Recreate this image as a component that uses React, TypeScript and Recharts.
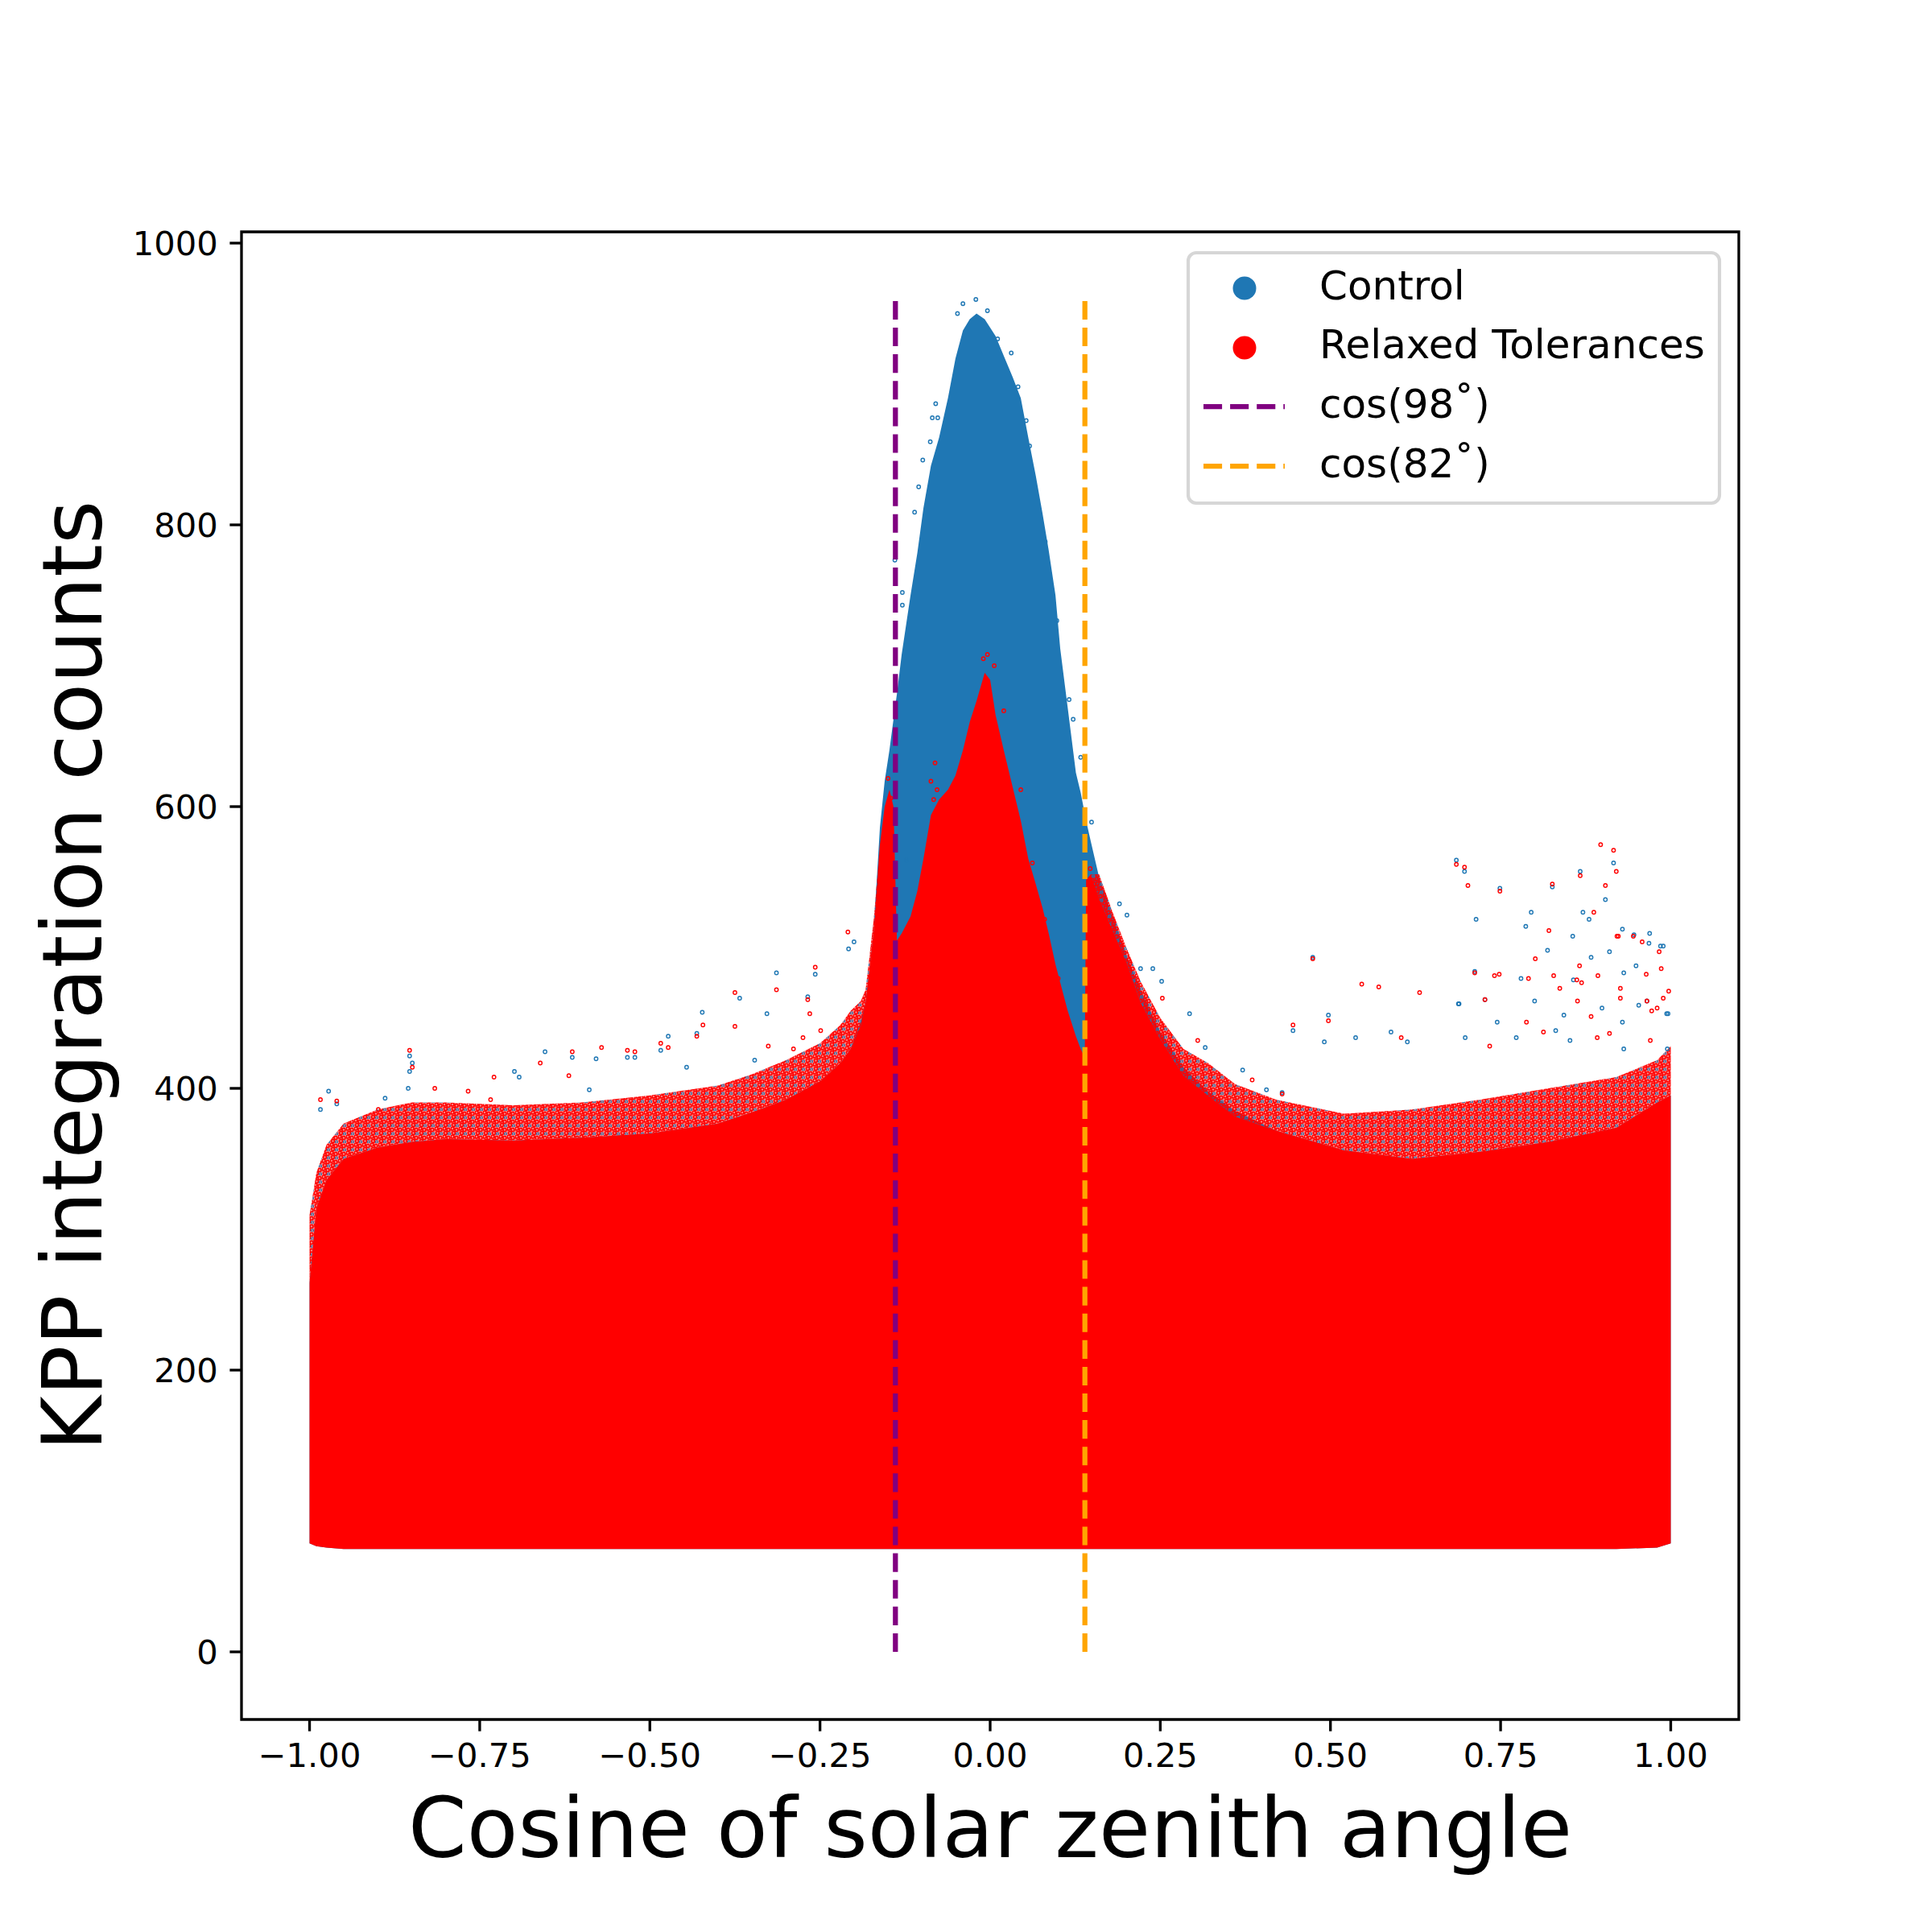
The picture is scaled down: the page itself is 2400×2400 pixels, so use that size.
import React from 'react'
import { ComposedChart, Area, Scatter, XAxis, YAxis, ReferenceLine, ReferenceArea } from 'recharts'

// envelope of the dense point clouds
const xs = [
  -1.0, -0.99, -0.975, -0.95, -0.9, -0.85, -0.8, -0.7, -0.6, -0.5, -0.4, -0.35, -0.3, -0.25, -0.22, -0.205,
  -0.19, -0.183, -0.171, -0.162, -0.155, -0.148, -0.142, -0.137, -0.13, -0.117, -0.107, -0.098, -0.087, -0.075,
  -0.062, -0.051, -0.04, -0.03, -0.02, -0.008, 0.0, 0.008, 0.02, 0.033, 0.045, 0.056, 0.067, 0.077, 0.086, 0.096,
  0.103, 0.114, 0.126, 0.133, 0.139, 0.141, 0.148, 0.16, 0.18, 0.2, 0.221, 0.25, 0.284, 0.32, 0.36, 0.42, 0.52,
  0.62, 0.72, 0.82, 0.92, 0.98, 1.0,
]
const lowerEdge = [
  77, 75, 74, 73, 73, 73, 73, 73, 73, 73, 73, 73, 73, 73, 73, 73,
  73, 73, 73, 73, 73, 73, 73, 73, 73, 73, 73, 73, 73, 73,
  73, 73, 73, 73, 73, 73, 73, 73, 73, 73, 73, 73, 73, 73, 73, 73,
  73, 73, 73, 73, 73, 73, 73, 73, 73, 73, 73, 73, 73, 73, 73, 73, 73,
  73, 73, 73, 73, 74, 77,
]
const controlTop = [
  262, 315, 335, 350, 358, 362, 364, 363, 365, 368, 375, 383, 392, 405, 418, 428,
  448, 461, 512, 585, 618, 640, 662, 680, 708, 750, 780, 812, 842, 862,
  890, 918, 938, 946, 950, 946, 940, 934, 920, 905, 890, 862, 835, 808, 782, 750,
  712, 670, 624, 610, 595, 590, 575, 550, 522, 495, 470, 440, 415, 398, 384, 370, 356,
  350, 355, 362, 372, 390, 395,
]
const relaxedTop = [
  262, 315, 335, 350, 358, 362, 364, 363, 365, 368, 375, 383, 392, 405, 418, 428,
  445, 461, 512, 573, 600, 612, 600, 505, 510, 522, 540, 563, 594, 605,
  612, 622, 640, 660, 675, 695, 690, 665, 640, 614, 590, 563, 545, 528, 510, 488,
  475, 455, 437, 428, 422, 548, 552, 535, 512, 490, 461, 435, 409, 395, 380, 370, 356,
  350, 355, 362, 372, 390, 395,
]
const fringeTop = [
  310, 340, 360, 375, 385, 390, 390, 388, 390, 395, 402, 410, 420, 432, 445, 455,
  462, 470, 520, 573, 600, 612, 600, 505, 510, 522, 540, 563, 594, 605,
  612, 622, 640, 660, 675, 695, 690, 665, 640, 614, 590, 563, 545, 528, 510, 488,
  475, 455, 437, 428, 422, 548, 552, 552, 525, 500, 476, 450, 428, 418, 403, 392, 382,
  385, 392, 400, 408, 420, 430,
]

// sparse points above the clouds
const controlOutliers = [
  [-0.984, 385], [-0.972, 398], [-0.96, 389], [-0.855, 400], [-0.853, 423], [-0.849, 418], [-0.853, 412],
  [-0.889, 393], [-0.699, 412], [-0.692, 408], [-0.654, 426], [-0.614, 422], [-0.579, 421], [-0.589, 399],
  [-0.533, 422], [-0.522, 422], [-0.484, 427], [-0.473, 437], [-0.446, 415], [-0.431, 439], [-0.423, 454],
  [-0.368, 464], [-0.346, 420], [-0.328, 453], [-0.314, 482], [-0.268, 465], [-0.257, 481], [-0.208, 499],
  [-0.2, 504], [-0.14, 775], [-0.129, 752], [-0.129, 743], [-0.123, 562], [-0.111, 809], [-0.105, 827],
  [-0.099, 846], [-0.088, 859], [-0.085, 876], [-0.08, 886], [-0.077, 876], [-0.048, 950], [-0.04, 957],
  [-0.021, 960], [-0.004, 952], [0.011, 932], [0.031, 922], [0.041, 898], [0.053, 874], [0.058, 856],
  [0.081, 788], [0.098, 732], [0.116, 676], [0.122, 662], [0.133, 635], [0.149, 589], [0.19, 531],
  [0.201, 523], [0.221, 485], [0.239, 485], [0.252, 476], [0.293, 453], [0.316, 429], [0.371, 413],
  [0.406, 399], [0.429, 397], [0.445, 441], [0.474, 493], [0.497, 452], [0.491, 433], [0.537, 436],
  [0.589, 440], [0.613, 433], [0.685, 562], [0.697, 554], [0.714, 520], [0.688, 460], [0.727, 463],
  [0.749, 542], [0.787, 515], [0.795, 525], [0.826, 543], [0.856, 508], [0.867, 554], [0.871, 525],
  [0.88, 520], [0.904, 534], [0.916, 560], [0.929, 513], [0.946, 509], [0.969, 510], [0.989, 501],
  [0.965, 462], [0.996, 453], [0.712, 483], [0.78, 478], [0.819, 498], [0.857, 477], [0.883, 493],
  [0.91, 497], [0.931, 482], [0.949, 487], [0.968, 503], [0.985, 501], [0.689, 460], [0.8, 462],
  [0.843, 452], [0.899, 457], [0.953, 459], [0.745, 447], [0.831, 441], [0.929, 447], [0.994, 453],
  [0.698, 436], [0.773, 436], [0.852, 434], [0.931, 428], [0.995, 428],
]
const relaxedOutliers = [
  [-0.984, 392], [-0.96, 391], [-0.899, 385], [-0.853, 427], [-0.849, 415], [-0.816, 400], [-0.767, 398],
  [-0.734, 392], [-0.729, 408], [-0.661, 418], [-0.619, 409], [-0.614, 426], [-0.571, 429], [-0.533, 427],
  [-0.522, 426], [-0.484, 432], [-0.473, 429], [-0.431, 437], [-0.422, 445], [-0.375, 468], [-0.375, 444],
  [-0.326, 430], [-0.314, 470], [-0.289, 428], [-0.275, 436], [-0.268, 463], [-0.265, 453], [-0.257, 486],
  [-0.249, 441], [-0.209, 511], [-0.15, 620], [-0.146, 606], [-0.087, 618], [-0.081, 631], [-0.078, 612],
  [-0.083, 605], [-0.01, 705], [-0.004, 708], [0.006, 700], [0.02, 668], [0.045, 612], [0.062, 560],
  [0.08, 520], [0.1, 478], [0.147, 556], [0.152, 545], [0.253, 464], [0.305, 434], [0.385, 406],
  [0.429, 396], [0.445, 445], [0.474, 492], [0.497, 448], [0.546, 474], [0.571, 472], [0.604, 436],
  [0.631, 468], [0.685, 559], [0.697, 557], [0.702, 544], [0.712, 482], [0.741, 480], [0.749, 540],
  [0.791, 478], [0.801, 492], [0.821, 512], [0.826, 545], [0.837, 471], [0.862, 477], [0.867, 551],
  [0.869, 475], [0.887, 525], [0.897, 573], [0.904, 544], [0.916, 569], [0.92, 554], [0.923, 508],
  [0.926, 471], [0.958, 504], [0.965, 462], [0.986, 485], [0.997, 469], [0.748, 481], [0.828, 480],
  [0.866, 487], [0.893, 480], [0.921, 508], [0.945, 508], [0.964, 481], [0.983, 497], [0.989, 464],
  [0.727, 463], [0.863, 462], [0.926, 464], [0.972, 455], [0.788, 447], [0.883, 451], [0.91, 439],
  [0.98, 457], [0.734, 430], [0.813, 440], [0.892, 436], [0.97, 434],
]

const xTicks = [-1, -0.75, -0.5, -0.25, 0, 0.25, 0.5, 0.75, 1]
const yTicks = [0, 200, 400, 600, 800, 1000]
const cos98 = -0.1392
const cos82 = 0.1392
const vlineTop = 960

const BLUE = '#1f77b4'
const RED = '#ff0000'
const FONT = 'DejaVu Sans, sans-serif'

const rows = xs.map((x, i) => ({
  x,
  control: [lowerEdge[i], controlTop[i]],
  relaxed: [lowerEdge[i], relaxedTop[i]],
  fringe: [relaxedTop[i], fringeTop[i]],
}))
const ctrlPts = controlOutliers.map(([x, y]) => ({ x, y }))
const relPts = relaxedOutliers.map(([x, y]) => ({ x, y }))

const dot = (color: string) => (props: any) => (
  <circle cx={props.cx} cy={props.cy} r={2.2} fill="none" stroke={color} strokeWidth={1.4} />
)

const fmtX = (v: number) => (v < 0 ? '\u2212' + Math.abs(v).toFixed(2) : v.toFixed(2))

export default function App() {
  const tickStyle = { fontSize: 41.7, fill: '#000', fontFamily: FONT }
  return (
    <div style={{ position: 'absolute', left: 0, top: 0, width: 2400, height: 2400, background: '#fff' }}>
      <ComposedChart
        width={2400}
        height={2400}
        data={rows}
        margin={{ top: 288, right: 240, bottom: 0, left: 0 }}
      >
        <defs>
          <pattern id="fringe" patternUnits="userSpaceOnUse" width="10" height="10">
            <rect x="0" y="0" width="10" height="10" fill={RED} fillOpacity="0.5" />
            <circle cx="2" cy="2" r="2" fill="none" stroke={RED} strokeWidth="1.6" />
            <circle cx="7" cy="3.5" r="2" fill="none" stroke={RED} strokeWidth="1.6" />
            <circle cx="3.5" cy="7.5" r="2" fill="none" stroke={RED} strokeWidth="1.6" />
            <circle cx="8" cy="8.5" r="1.5" fill="none" stroke={BLUE} strokeWidth="1.1" />
          </pattern>
        </defs>
        <XAxis
          type="number"
          dataKey="x"
          domain={[-1.1, 1.1]}
          allowDataOverflow
          ticks={xTicks}
          interval={0}
          tickFormatter={fmtX}
          height={264}
          tickSize={14.6}
          tickMargin={14.6}
          tick={tickStyle}
          tickLine={{ stroke: '#000', strokeWidth: 3.33 }}
          axisLine={false}
        />
        <YAxis
          type="number"
          domain={[-48, 1008]}
          allowDataOverflow
          ticks={yTicks}
          interval={0}
          width={300}
          tickSize={14.6}
          tickMargin={14.6}
          tick={tickStyle}
          tickLine={{ stroke: '#000', strokeWidth: 3.33 }}
          axisLine={false}
        />
        <Area
          type="linear"
          dataKey="control"
          stroke="none"
          fill={BLUE}
          fillOpacity={1}
          dot={false}
          activeDot={false}
          isAnimationActive={false}
        />
        <Scatter data={ctrlPts} dataKey="y" shape={dot(BLUE)} isAnimationActive={false} />
        <Area
          type="linear"
          dataKey="relaxed"
          stroke="none"
          fill={RED}
          fillOpacity={1}
          dot={false}
          activeDot={false}
          isAnimationActive={false}
        />
        <Area
          type="linear"
          dataKey="fringe"
          stroke="none"
          fill="url(#fringe)"
          fillOpacity={1}
          dot={false}
          activeDot={false}
          isAnimationActive={false}
        />
        <Scatter data={relPts} dataKey="y" shape={dot(RED)} isAnimationActive={false} />
        <ReferenceLine
          segment={[{ x: cos98, y: 0 }, { x: cos98, y: vlineTop }]}
          stroke="#800080"
          strokeWidth={6.25}
          strokeDasharray="23.1 10"
          ifOverflow="visible"
          zIndex={1000}
        />
        <ReferenceLine
          segment={[{ x: cos82, y: 0 }, { x: cos82, y: vlineTop }]}
          stroke="#ffa500"
          strokeWidth={6.25}
          strokeDasharray="23.1 10"
          ifOverflow="visible"
          zIndex={1000}
        />
        <ReferenceArea
          x1={-1.1}
          x2={1.1}
          y1={-48}
          y2={1008}
          fill="none"
          fillOpacity={0}
          stroke="#000"
          strokeWidth={3.33}
          ifOverflow="visible"
          zIndex={1100}
        />
      </ComposedChart>

      {/* axis titles and legend */}
      <svg
        width={2400}
        height={2400}
        style={{ position: 'absolute', left: 0, top: 0, pointerEvents: 'none' }}
        fontFamily={FONT}
      >
        <text x={1230} y={2307} fontSize={104.2} textAnchor="middle" fill="#000">
          Cosine of solar zenith angle
        </text>
        <text
          x={126}
          y={1212}
          fontSize={104.2}
          textAnchor="middle"
          fill="#000"
          transform="rotate(-90 126 1212)"
        >
          KPP integration counts
        </text>

        <rect x={1476} y={314} width={660} height={311} rx={10} fill="#fff" fillOpacity={0.8} stroke="#d6d6d6" strokeWidth={4.17} />
        <circle cx={1546} cy={358} r={14.5} fill={BLUE} />
        <text x={1639} y={372} fontSize={50} fill="#000">Control</text>
        <circle cx={1546} cy={432} r={14.5} fill={RED} />
        <text x={1639} y={445} fontSize={50} fill="#000">Relaxed Tolerances</text>
        <line x1={1495} y1={505} x2={1596} y2={505} stroke="#800080" strokeWidth={6.25} strokeDasharray="23.1 10" />
        <text x={1639} y={519} fontSize={50} fill="#000">cos(98˚)</text>
        <line x1={1495} y1={579} x2={1596} y2={579} stroke="#ffa500" strokeWidth={6.25} strokeDasharray="23.1 10" />
        <text x={1639} y={593} fontSize={50} fill="#000">cos(82˚)</text>
      </svg>
    </div>
  )
}
